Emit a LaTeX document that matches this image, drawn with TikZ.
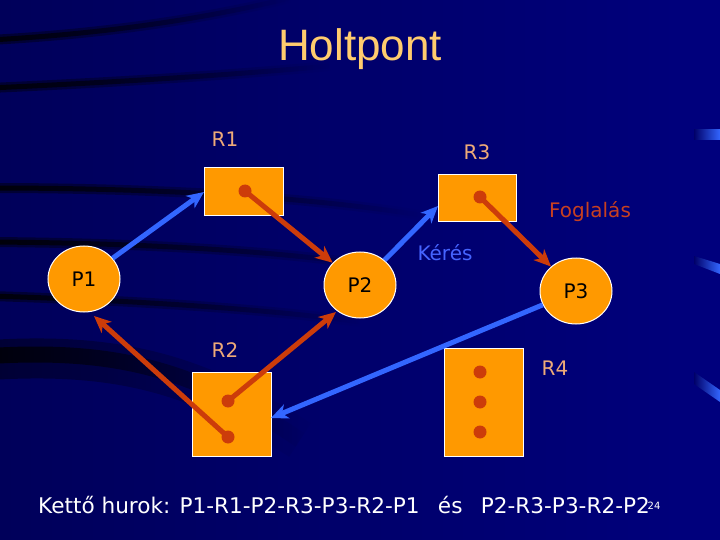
\documentclass[tikz,border=0pt]{standalone}
\usepackage{fontspec}
\setmainfont{DejaVu Sans}
\newfontfamily\titlefont{Liberation Sans}
\usetikzlibrary{arrows.meta,shapes.geometric,fadings}
\definecolor{bgblue}{RGB}{0,0,104}
\definecolor{bgdark}{RGB}{0,0,90}
\definecolor{bglight}{RGB}{0,0,125}
\definecolor{resorange}{RGB}{255,153,0}
\definecolor{holdred}{RGB}{204,60,10}
\definecolor{reqblue}{RGB}{51,102,255}
\definecolor{peach}{RGB}{238,170,120}
\definecolor{titlecol}{RGB}{255,204,110}
\definecolor{foglcol}{RGB}{200,64,32}
\definecolor{kerescol}{RGB}{70,100,255}
\tikzfading[name=fadeoutright, left color=transparent!0, right color=transparent!100]
\tikzset{
  resbox/.style={draw=white, line width=1pt, fill=resorange},
  procnode/.style={ellipse, draw=white, line width=1pt, fill=resorange,
    minimum width=72pt, minimum height=66pt, inner sep=0pt,
    font=\fontsize{20pt}{22pt}\selectfont, text=black},
  rdot/.style={circle, fill=holdred, minimum size=13pt, inner sep=0pt},
  reqarrow/.style={draw=reqblue, line width=5pt,
    -{Stealth[length=17pt,width=15pt,inset=5pt]}},
  holdarrow/.style={draw=holdred, line width=5pt,
    -{Stealth[length=17pt,width=15pt,inset=5pt]}},
  lbl/.style={anchor=base, font=\fontsize{20pt}{22pt}\selectfont, text=peach},
  streak/.style={line width=#1, black, path fading=fadeoutright},
}
\begin{document}
\begin{tikzpicture}[x=1pt,y=-1pt]
\useasboundingbox (0,0) rectangle (720,540);
\shade[left color=bgdark, right color=bglight] (0,0) rectangle (720,540);
% dark streaks
\begin{scope}[opacity=0.45]
\draw[streak=10] (-10,40) .. controls (100,34) and (200,20) .. (290,-2);
\draw[streak=10] (-10,88) .. controls (100,83) and (220,76) .. (330,66);
\draw[streak=10] (-10,188) .. controls (150,188) and (300,196) .. (420,215);
\draw[streak=10] (-10,242) .. controls (150,243) and (300,252) .. (400,270);
\draw[streak=10] (-10,296) .. controls (120,300) and (260,308) .. (360,322);
\draw[streak=40] (-10,360) .. controls (120,352) and (200,375) .. (300,440);
\end{scope}
\begin{scope}[opacity=0.8]
\draw[streak=5] (-10,40) .. controls (100,34) and (200,20) .. (290,-2);
\draw[streak=5] (-10,88) .. controls (100,83) and (220,76) .. (330,66);
\draw[streak=5] (-10,188) .. controls (150,188) and (300,196) .. (420,215);
\draw[streak=5] (-10,242) .. controls (150,243) and (300,252) .. (400,270);
\draw[streak=5] (-10,296) .. controls (120,300) and (260,308) .. (360,322);
\draw[streak=16] (-10,356) .. controls (120,348) and (200,372) .. (300,440);
\end{scope}
% right edge blue streaks
\shade[left color=bgblue, right color=reqblue] (694,130) -- (720,130) -- (720,140) -- (694,140) -- cycle;
\shade[left color=bgblue, right color=reqblue] (694,256) -- (720,264) -- (720,274) -- (694,264) -- cycle;
\shade[left color=bgblue, right color=reqblue] (694,372) -- (720,390) -- (720,402) -- (694,384) -- cycle;

% title
\node[anchor=base, font=\titlefont\fontsize{44pt}{48pt}\selectfont, text=titlecol] (title) at (360,61) {Holtpont};

% resources
\draw[resbox] (204,168) rectangle (283,216);
\coordinate (R1w) at (204,192);
\draw[resbox] (438,175) rectangle (516,222);
\coordinate (R3in) at (438,206);
\draw[resbox] (192,372) rectangle (271,456);
\coordinate (R2in) at (271,418);
\draw[resbox] (444,348) rectangle (523,456);

\node[rdot] (d1) at (245,191) {};
\node[rdot] (d3) at (480,197) {};
\node[rdot] (d2a) at (228,401) {};
\node[rdot] (d2b) at (228,437) {};
\node[rdot] (d4a) at (480,372) {};
\node[rdot] (d4b) at (480,402) {};
\node[rdot] (d4c) at (480,432) {};

% processes
\node[procnode] (P1) at (84,279) {P1};
\node[procnode] (P2) at (360,285) {P2};
\node[procnode] (P3) at (576,291) {P3};
\coordinate (P1in) at (94,316);
\coordinate (P2in) at (336,312);

% labels
\node[lbl] (lR1) at (225,147) {R1};
\node[lbl] (lR3) at (477,160) {R3};
\node[lbl] (lR2) at (225,357) {R2};
\node[lbl] (lR4) at (555,375) {R4};
\node[lbl, text=foglcol] (lfogl) at (590,218) {Foglalás};
\node[lbl, text=kerescol] (lkeres) at (445,260) {Kérés};

% arrows
\draw[reqarrow] (P1) -- (R1w);
\draw[holdarrow] (d1.center) -- (P2);
\draw[reqarrow] (P2) -- (R3in);
\draw[holdarrow] (d3.center) -- (P3);
\draw[reqarrow] (P3) -- (R2in);
\draw[holdarrow] (d2b.center) -- (P1in);
\draw[holdarrow] (d2a.center) -- (P2in);

% bottom text
\node[anchor=base west, inner sep=0pt, font=\fontsize{21.6pt}{24pt}\selectfont, text=white] (summary) at (38,513)
  {Kettő hurok: P1-R1-P2-R3-P3-R2-P1\hspace{0.85em}és\hspace{0.85em}P2-R3-P3-R2-P2};
\node[anchor=base, inner sep=0pt, font=\fontsize{10pt}{11pt}\selectfont, text=white] (pagenum) at (654,509) {24};
\end{tikzpicture}
\end{document}
